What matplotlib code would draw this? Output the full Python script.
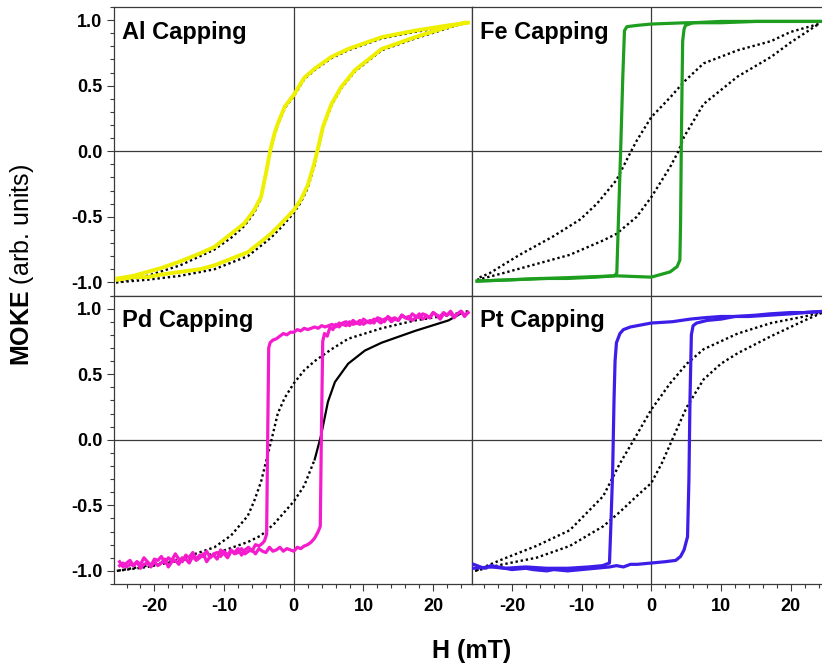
import matplotlib
matplotlib.use("Agg")
import matplotlib.pyplot as plt
from matplotlib.ticker import MultipleLocator, FormatStrFormatter

plt.rcParams['font.family'] = ['Liberation Sans', 'DejaVu Sans']
plt.rcParams['mathtext.fontset'] = 'custom'
plt.rcParams['mathtext.rm'] = 'Liberation Sans'
plt.rcParams['mathtext.bf'] = 'Liberation Sans:bold'
plt.rcParams['axes.unicode_minus'] = False

# ---------------- Al capping ----------------
al_ref_dn_h = [25, 22.2, 17.4, 12.6, 7.8, 5.4, 3.0, 1.5, 0, -1.3, -2.3, -2.8, -3.4, -4.0, -4.7, -5.7, -7.1, -9.0, -11.4, -16.3, -21, -25.5]
al_ref_dn_m = [0.98, 0.95, 0.91, 0.86, 0.77, 0.71, 0.62, 0.55, 0.42, 0.33, 0.20, 0.12, 0.0, -0.18, -0.36, -0.47, -0.57, -0.66, -0.75, -0.87, -0.95, -1.0]
al_ref_up_h = [-25.5, -21, -16.3, -11.4, -6.6, -4.7, -3.3, -1.8, 0, 1.0, 2.0, 3.0, 3.5, 4.2, 5.4, 6.8, 8.8, 12.6, 17.4, 22.2, 24.5]
al_ref_up_m = [-1.0, -0.98, -0.95, -0.90, -0.80, -0.72, -0.66, -0.58, -0.47, -0.39, -0.28, -0.10, 0.02, 0.18, 0.35, 0.48, 0.61, 0.77, 0.86, 0.94, 0.98]
al_cap_dn_h = [25, 22.2, 17.4, 12.6, 7.8, 5.4, 3.0, 1.5, 0, -1.3, -2.3, -2.8, -3.4, -4.0, -4.7, -5.7, -7.1, -9.0, -11.4, -13.5, -16.3, -19, -21, -23, -25.3]
al_cap_dn_m = [0.98, 0.96, 0.92, 0.87, 0.78, 0.72, 0.63, 0.56, 0.43, 0.34, 0.21, 0.13, 0.0, -0.17, -0.35, -0.45, -0.55, -0.63, -0.73, -0.78, -0.84, -0.89, -0.92, -0.95, -0.97]
al_cap_up_h = [-25.3, -23, -21, -19, -16.3, -13.5, -11.4, -6.6, -4.7, -3.3, -1.8, 0, 1.0, 2.0, 3.0, 3.5, 4.2, 5.4, 6.8, 8.8, 12.6, 17.4, 22.2, 24.5]
al_cap_up_m = [-0.98, -0.96, -0.96, -0.94, -0.92, -0.90, -0.87, -0.77, -0.69, -0.63, -0.55, -0.45, -0.37, -0.26, -0.08, 0.03, 0.19, 0.36, 0.49, 0.62, 0.78, 0.87, 0.95, 0.98]

# ---------------- Fe capping ----------------
fe_ref_dn_h = [24, 20, 17.2, 12.4, 7.5, 4.7, 2.7, 0, -2.1, -2.9, -5.0, -7.8, -10.2, -14.1, -18.9, -23.2, -25]
fe_ref_dn_m = [0.97, 0.91, 0.84, 0.77, 0.67, 0.53, 0.41, 0.26, 0.08, 0.0, -0.22, -0.40, -0.52, -0.65, -0.79, -0.93, -0.97]
fe_ref_up_h = [-25, -24.2, -21.3, -16.5, -11.7, -6.9, -5.0, -2.1, 0, 2.7, 3.9, 4.7, 7.5, 12.4, 17.2, 20, 24]
fe_ref_up_m = [-0.98, -0.97, -0.93, -0.86, -0.79, -0.68, -0.63, -0.50, -0.35, -0.12, 0.0, 0.11, 0.36, 0.57, 0.72, 0.83, 0.97]
fe_cap_dn_h = [25, 20, 15, 10, 5, 0, -2, -3.5, -3.85, -4.1, -4.4, -4.7, -4.95, -5.3, -8, -12, -16, -20, -25]
fe_cap_dn_m = [0.99, 0.99, 0.99, 0.98, 0.98, 0.97, 0.96, 0.95, 0.92, 0.55, 0.0, -0.50, -0.93, -0.95, -0.96, -0.97, -0.97, -0.98, -0.99]
fe_cap_up_h = [-25, -20, -15, -10, -5, 0, 2.7, 3.7, 4.1, 4.2, 4.3, 4.4, 4.5, 4.7, 4.9, 6, 10, 15, 20, 25]
fe_cap_up_m = [-0.99, -0.98, -0.97, -0.96, -0.95, -0.96, -0.92, -0.88, -0.83, -0.55, 0.0, 0.45, 0.84, 0.93, 0.96, 0.98, 0.99, 0.99, 0.99, 0.99]

# ---------------- Pd capping ----------------
pd_ref_dn_h = [25, 22.2, 17.4, 12.6, 7.8, 5.4, 3.0, 1.5, 0, -1.3, -2.3, -3.2, -4.0, -4.7, -5.7, -6.6, -9.0, -11.4, -16.3, -21, -25.4]
pd_ref_dn_m = [0.98, 0.95, 0.91, 0.85, 0.77, 0.69, 0.60, 0.53, 0.43, 0.32, 0.20, 0.0, -0.17, -0.32, -0.47, -0.58, -0.73, -0.82, -0.91, -0.96, -1.0]
pd_ref_up_h = [-25.4, -21, -16.3, -11.4, -6.6, -4.7, -2.8, 0, 1.5, 3.0]
pd_ref_up_m = [-1.0, -0.97, -0.92, -0.87, -0.78, -0.73, -0.64, -0.47, -0.35, -0.15]
pd_ref_hi_h = [3.0, 3.9, 4.9, 5.9, 7.8, 10.2, 12.6, 17.4, 22.2, 24.2]
pd_ref_hi_m = [-0.15, 0.03, 0.29, 0.44, 0.58, 0.68, 0.74, 0.83, 0.91, 0.97]
pd_cap_dn_h = [25, 24.5, 24, 23.5, 23, 22.5, 22, 21.5, 21, 20.5,
               20, 19.5, 19, 18.5, 18, 17.5, 17, 16.5, 16, 15.5,
               15, 14.5, 14, 13.5, 13, 12.5, 12, 11.5, 11, 10.5,
               10, 9.5, 9, 8.5, 8, 7.5, 7, 6.5, 6, 5.5,
               5, 4.5, 4, 3.5, 3, 2.5, 2, 1.5, 1, 0.5,
               0, -0.5, -1, -1.5, -2, -2.5, -3,
               -3.4, -3.6, -3.75, -3.9, -4.2,
               -4.5, -5, -5.5, -6, -6.5, -7, -7.5, -8, -8.5, -9,
               -9.5, -10, -10.5, -11, -11.5, -12, -12.5, -13, -13.5, -14,
               -14.5, -15, -15.5, -16, -16.5, -17, -17.5, -18, -18.5, -19,
               -19.5, -20, -20.5, -21, -21.5, -22, -22.5, -23, -23.5, -24,
               -24.5, -25]
pd_cap_dn_m = [0.97, 0.94, 0.98, 0.96, 0.93, 0.97, 0.95, 0.96, 0.92, 0.95,
               0.97, 0.93, 0.94, 0.92, 0.96, 0.93, 0.91, 0.94, 0.93, 0.95,
               0.91, 0.92, 0.90, 0.93, 0.92, 0.89, 0.91, 0.92, 0.89, 0.90,
               0.88, 0.91, 0.89, 0.88, 0.90, 0.87, 0.88, 0.89, 0.86, 0.88,
               0.87, 0.86, 0.87, 0.85, 0.86, 0.85, 0.84, 0.85, 0.83, 0.84,
               0.82, 0.82, 0.80, 0.81, 0.79, 0.77, 0.76,
               0.74, 0.70, 0.0, -0.72, -0.77,
               -0.79, -0.81, -0.80, -0.85, -0.82, -0.84, -0.88, -0.83, -0.86, -0.85,
               -0.90, -0.87, -0.84, -0.91, -0.88, -0.89, -0.93, -0.87, -0.90, -0.92,
               -0.89, -0.94, -0.91, -0.90, -0.95, -0.92, -0.93, -0.97, -0.91, -0.94,
               -0.96, -0.93, -0.97, -0.94, -0.95, -0.98, -0.93, -0.96, -0.95, -0.97,
               -0.94, -0.96]
pd_cap_up_h = [-25, -24.5, -24, -23.5, -23, -22.5, -22, -21.5, -21, -20.5,
               -20, -19.5, -19, -18.5, -18, -17.5, -17, -16.5, -16, -15.5,
               -15, -14.5, -14, -13.5, -13, -12.5, -12, -11.5, -11, -10.5,
               -10, -9.5, -9, -8.5, -8, -7.5, -7, -6.5, -6, -5.5,
               -5, -4.5, -4, -3.5, -3, -2.5, -2, -1.5, -1, -0.5,
               0, 0.5, 1, 1.5, 2, 2.5, 3, 3.5,
               3.8, 3.95, 4.15, 4.4, 4.8, 5.2, 5.6,
               6, 6.5, 7, 7.5, 8, 8.5, 9, 9.5, 10, 10.5,
               11, 11.5, 12, 12.5, 13, 13.5, 14, 14.5, 15, 15.5,
               16, 16.5, 17, 17.5, 18, 18.5, 19, 19.5, 20, 20.5,
               21, 21.5, 22, 22.5, 23, 23.5, 24, 24.5, 25]
pd_cap_up_m = [-0.93, -0.97, -0.94, -0.92, -0.96, -0.93, -0.95, -0.90, -0.93, -0.96,
               -0.91, -0.92, -0.89, -0.94, -0.90, -0.92, -0.87, -0.91, -0.93, -0.88,
               -0.90, -0.86, -0.91, -0.88, -0.89, -0.85, -0.90, -0.87, -0.86, -0.89,
               -0.85, -0.88, -0.84, -0.87, -0.86, -0.83, -0.87, -0.85, -0.84, -0.87,
               -0.83, -0.85, -0.86, -0.82, -0.85, -0.84, -0.82, -0.85, -0.83, -0.84,
               -0.85, -0.82, -0.83, -0.81, -0.80, -0.78, -0.75, -0.70,
               -0.66, 0.0, 0.75, 0.81, 0.79, 0.86, 0.84,
               0.88, 0.86, 0.89, 0.90, 0.87, 0.91, 0.89, 0.88, 0.92, 0.90,
               0.91, 0.89, 0.93, 0.92, 0.90, 0.94, 0.92, 0.93, 0.91, 0.95,
               0.93, 0.92, 0.96, 0.94, 0.93, 0.96, 0.95, 0.93, 0.97, 0.95,
               0.94, 0.97, 0.95, 0.98, 0.94, 0.96, 0.98, 0.95, 0.97]

# ---------------- Pt capping ----------------
pt_ref_dn_h = [25, 22, 17.2, 12.4, 7.5, 5.1, 2.7, 0, -2.5, -4.5, -6.9, -11.7, -16.5, -21.3, -25.3]
pt_ref_dn_m = [0.98, 0.94, 0.89, 0.81, 0.69, 0.58, 0.43, 0.23, 0.0, -0.18, -0.43, -0.69, -0.81, -0.91, -1.0]
pt_ref_up_h = [-25.3, -21.3, -16.5, -11.7, -6.9, -4.5, -2.1, 0, 1.5, 3.0, 4.0, 5.1, 7.5, 10, 12.4, 17.2, 22, 25]
pt_ref_up_m = [-1.0, -0.95, -0.90, -0.81, -0.66, -0.55, -0.43, -0.33, -0.18, 0.0, 0.12, 0.25, 0.46, 0.58, 0.66, 0.79, 0.91, 0.98]
pt_cap_dn_h = [25, 22, 20, 17, 14, 10, 7.5, 5.6, 3, 0, -3.0, -4.0, -4.5, -5.0, -5.2, -5.35, -5.55,
               -5.8, -6.0, -7, -9, -12, -15, -18, -21, -23, -25.5]
pt_cap_dn_m = [0.98, 0.97, 0.96, 0.95, 0.94, 0.94, 0.93, 0.92, 0.90, 0.89, 0.86, 0.84, 0.81, 0.74,
               0.60, 0.30, -0.25, -0.65, -0.94, -0.96, -0.97, -0.98, -0.98, -0.97, -0.98, -0.97, -0.98]
pt_cap_up_h = [-25.5, -24, -23, -21, -20, -18, -17, -15, -14, -12, -10, -8, -6, -5, -4, -3, -2, 0, 2,
               3.5, 4.2, 4.7, 5.2, 5.4, 5.55, 5.75, 6.0, 6.5, 8, 10, 12, 15, 17, 20, 22, 25]
pt_cap_up_m = [-0.95, -0.98, -0.96, -0.98, -0.99, -0.98, -0.99, -1.0, -0.99, -1.0, -0.99, -0.98,
               -0.97, -0.96, -0.97, -0.95, -0.95, -0.94, -0.93, -0.92, -0.89, -0.84, -0.74, -0.30,
               0.30, 0.80, 0.87, 0.89, 0.91, 0.92, 0.94, 0.95, 0.96, 0.97, 0.97, 0.98]

panels = [
    ("Al Capping", "#eef000", al_ref_dn_h, al_ref_dn_m, al_ref_up_h, al_ref_up_m,
     al_cap_dn_h, al_cap_dn_m, al_cap_up_h, al_cap_up_m, None),
    ("Fe Capping", "#1e9e1e", fe_ref_dn_h, fe_ref_dn_m, fe_ref_up_h, fe_ref_up_m,
     fe_cap_dn_h, fe_cap_dn_m, fe_cap_up_h, fe_cap_up_m, None),
    ("Pd Capping", "#f41ccc", pd_ref_dn_h, pd_ref_dn_m, pd_ref_up_h, pd_ref_up_m,
     pd_cap_dn_h, pd_cap_dn_m, pd_cap_up_h, pd_cap_up_m, (pd_ref_hi_h, pd_ref_hi_m)),
    ("Pt Capping", "#3c1ee8", pt_ref_dn_h, pt_ref_dn_m, pt_ref_up_h, pt_ref_up_m,
     pt_cap_dn_h, pt_cap_dn_m, pt_cap_up_h, pt_cap_up_m, None),
]

W, H = 822, 666
fig = plt.figure(figsize=(W / 100, H / 100), dpi=100)

x_left = [114, 471.5]
y_top = [7, 295.5]
pw, ph = 357.5, 288.5
frame = "#3a3a3a"

for i, (title, col, rdh, rdm, ruh, rum, cdh, cdm, cuh, cum, extra) in enumerate(panels):
    row, c = divmod(i, 2)
    ax = fig.add_axes([x_left[c] / W, (H - y_top[row] - ph) / H, pw / W, ph / H])
    ax.set_xlim(-25.8, 25.5)
    ax.set_ylim(-1.1, 1.1)
    ax.axhline(0, color=frame, lw=0.9, zorder=1)
    ax.axvline(0, color=frame, lw=0.9, zorder=1)

    dots = dict(color="black", lw=1.7, linestyle=(0, (1, 1.2)), zorder=2)
    ax.plot(rdh, rdm, **dots)
    ax.plot(ruh, rum, **dots)
    if extra is not None:
        ax.plot(extra[0], extra[1], color="black", lw=1.6, zorder=2)

    lw = 2.8 if col == "#eef000" else 2.3
    ax.plot(cdh, cdm, color=col, lw=lw, zorder=3, solid_joinstyle="round")
    ax.plot(cuh, cum, color=col, lw=lw, zorder=3, solid_joinstyle="round")

    ax.text(8 / pw, 1 - 32 / ph, title, transform=ax.transAxes, fontsize=17,
            fontweight="bold", ha="left", va="baseline", zorder=5)

    for s in ax.spines.values():
        s.set_color(frame)
        s.set_linewidth(0.9)

    ax.tick_params(which="both", direction="out", color=frame, width=0.8,
                   labelsize=13)
    ax.tick_params(which="major", length=5)
    ax.tick_params(which="minor", length=3)
    ax.tick_params(axis="y", pad=3.5)
    ax.tick_params(axis="x", pad=5)

    if c == 0:
        ax.yaxis.set_major_locator(MultipleLocator(0.5))
        ax.yaxis.set_minor_locator(MultipleLocator(0.1))
        ax.yaxis.set_major_formatter(FormatStrFormatter("%.1f"))
        for lab in ax.get_yticklabels():
            lab.set_fontweight("bold")
    else:
        ax.set_yticks([])
        ax.yaxis.set_ticks([], minor=True)

    if row == 1:
        ax.xaxis.set_major_locator(MultipleLocator(10))
        ax.xaxis.set_minor_locator(MultipleLocator(2))
        for lab in ax.get_xticklabels():
            lab.set_fontweight("bold")
    else:
        ax.set_xticks([])
        ax.xaxis.set_ticks([], minor=True)

fig.text(22 / W, 1 - 265 / H, r"$\mathbf{MOKE}$ (arb. units)", rotation=90,
         fontsize=18, ha="center", va="center")
fig.text(472 / W, 1 - 658 / H, "H (mT)", fontsize=18, fontweight="bold",
         ha="center", va="baseline")

fig.savefig("out.png", dpi=100)
